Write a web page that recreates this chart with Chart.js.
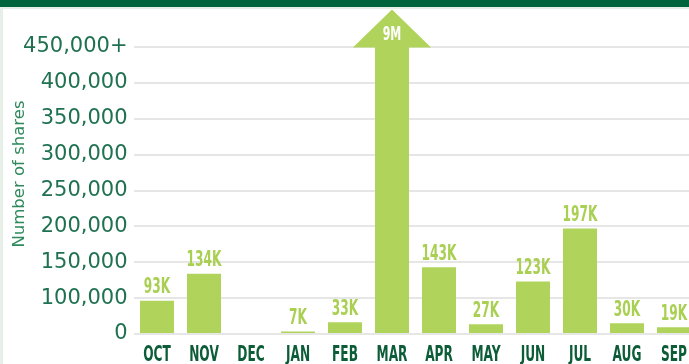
<!DOCTYPE html>
<html>
<head>
<meta charset="utf-8">
<script src="https://cdn.jsdelivr.net/npm/chart.js@4/dist/chart.umd.min.js"></script>
<style>
  html, body { margin: 0; padding: 0; background: #ffffff; overflow: hidden; }
  #frame { position: relative; width: 689px; height: 364px; overflow: hidden; }
  #wrap { position: absolute; left: 0; top: 0; width: 700px; height: 364px; }
  #band { position: absolute; left: 0; top: 0; width: 689px; height: 7px; background: #00643c; z-index: 2; }
  #bandEdge { position: absolute; left: 0; top: 7px; width: 689px; height: 2px; background: #e3efe7; z-index: 2; }
  #sideEdge { position: absolute; left: 0; top: 0; width: 3px; height: 364px; background: #e6f0e9; z-index: 1; }
</style>
</head>
<body>
<div id="frame">
  <div id="wrap"><canvas id="chart" width="700" height="364"></canvas></div>
  <div id="sideEdge"></div>
  <div id="band"></div>
  <div id="bandEdge"></div>
</div>
<script>
// Monthly share counts, October through September
const months = ['OCT', 'NOV', 'DEC', 'JAN', 'FEB', 'MAR', 'APR', 'MAY', 'JUN', 'JUL', 'AUG', 'SEP'];
const shares = [93000, 134000, null, 7000, 33000, 9000000, 143000, 27000, 123000, 197000, 30000, 19000];

// Value axis: 0 to 100,000 takes one step, then 50,000 per step up to the capped top
const yTicks = [0, 100000, 150000, 200000, 250000, 300000, 350000, 400000, 450000];
const yFirstStep = 100000;
const yStep = 50000;
const yCap = 450000;
const yTitle = 'Number of shares';

const BAR_GREEN = '#b0d35b';
const LABEL_GREEN = '#a9cf53';
const DARK_GREEN = '#0b5c37';
const TICK_GREEN = '#1f7150';
const TITLE_GREEN = '#2e8a5c';
const BOLD_FACE = '"DejaVu Sans", sans-serif';
const SQUEEZE = 0.58;   // horizontal squeeze for the condensed headline lettering

// Linear scale with a compressed first step
class SteppedScale extends Chart.LinearScale {
  static id = 'stepped';
  static defaults = Chart.LinearScale.defaults;
  _toUnits(v) {
    return v <= yFirstStep ? v / yFirstStep : 1 + (v - yFirstStep) / yStep;
  }
  getPixelForValue(value) {
    const total = this._toUnits(this.max);
    return this.getPixelForDecimal(this._toUnits(value) / total);
  }
  getValueForPixel(pixel) {
    const u = this.getDecimalForPixel(pixel) * this._toUnits(this.max);
    return u <= 1 ? u * yFirstStep : yFirstStep + (u - 1) * yStep;
  }
}
Chart.register(SteppedScale);

function shortValue(v) {
  if (v >= 1000000) return Math.round(v / 1000000) + 'M';
  return Math.round(v / 1000) + 'K';
}

// Heavy lettering squeezed horizontally, centred on x
function condensedText(ctx, text, x, y, size, color) {
  ctx.save();
  ctx.translate(x, y);
  ctx.scale(SQUEEZE, 1);
  ctx.font = 'bold ' + size + 'px ' + BOLD_FACE;
  ctx.fillStyle = color;
  ctx.textAlign = 'center';
  ctx.textBaseline = 'alphabetic';
  ctx.fillText(text, 0, 0);
  ctx.restore();
}

// Value labels above bars; bars above the cap get an arrow head with the label inside
const barDecor = {
  id: 'barDecor',
  afterDatasetsDraw(chart) {
    const ctx = chart.ctx;
    const meta = chart.getDatasetMeta(0);
    const top = chart.chartArea.top;
    meta.data.forEach((bar, i) => {
      const v = shares[i];
      if (v == null || v === 0) return;
      if (v > yCap) {
        const half = bar.width * 1.15;
        const head = bar.width * 1.1;
        ctx.save();
        ctx.fillStyle = BAR_GREEN;
        ctx.beginPath();
        ctx.moveTo(bar.x - half, top + 0.5);
        ctx.lineTo(bar.x + half, top + 0.5);
        ctx.lineTo(bar.x, top - head);
        ctx.closePath();
        ctx.fill();
        ctx.restore();
        condensedText(ctx, shortValue(v), bar.x, top - 7.5, 19, '#ffffff');
      } else {
        condensedText(ctx, shortValue(v), bar.x, bar.y - 7.5, 21, LABEL_GREEN);
      }
    });
  }
};

// Month names under the bars and the rotated axis title
const axisText = {
  id: 'axisText',
  afterDraw(chart) {
    const ctx = chart.ctx;
    const xs = chart.scales.x;
    const base = chart.chartArea.bottom;
    months.forEach((m, i) => {
      condensedText(ctx, m, xs.getPixelForTick(i), base + 26.5, 21, DARK_GREEN);
    });
    ctx.save();
    ctx.translate(20, 174);
    ctx.rotate(-Math.PI / 2);
    ctx.font = '16.5px "DejaVu Sans", sans-serif';
    ctx.fillStyle = TITLE_GREEN;
    ctx.textAlign = 'center';
    ctx.textBaseline = 'middle';
    ctx.fillText(yTitle, 0, 0);
    ctx.restore();
  }
};

new Chart(document.getElementById('chart'), {
  type: 'bar',
  data: {
    labels: months,
    datasets: [{
      data: shares,
      backgroundColor: BAR_GREEN,
      borderWidth: 0,
      categoryPercentage: 1,
      barPercentage: 0.723,
      clip: 0
    }]
  },
  options: {
    responsive: false,
    animation: false,
    events: [],
    layout: { padding: { top: 47, right: 2.5, left: 0, bottom: 0 } },
    plugins: { legend: { display: false }, tooltip: { enabled: false } },
    scales: {
      x: {
        offset: true,
        grid: { display: false },
        border: { display: false },
        afterFit(scale) { scale.height = 30; },
        ticks: { display: false }
      },
      y: {
        type: 'stepped',
        min: 0,
        max: yCap,
        afterBuildTicks(scale) { scale.ticks = yTicks.map(v => ({ value: v })); },
        afterFit(scale) { scale.width = 133.5; },
        grid: { color: '#e6e6e6', lineWidth: 2, drawTicks: false },
        border: { display: false },
        ticks: {
          color: TICK_GREEN,
          padding: 6,
          font: { family: '"DejaVu Sans", sans-serif', size: 21 },
          callback(v) {
            const s = Number(v).toLocaleString('en-US');
            return v >= yCap ? s + '+' : s;
          }
        }
      }
    }
  },
  plugins: [barDecor, axisText]
});
</script>
</body>
</html>
